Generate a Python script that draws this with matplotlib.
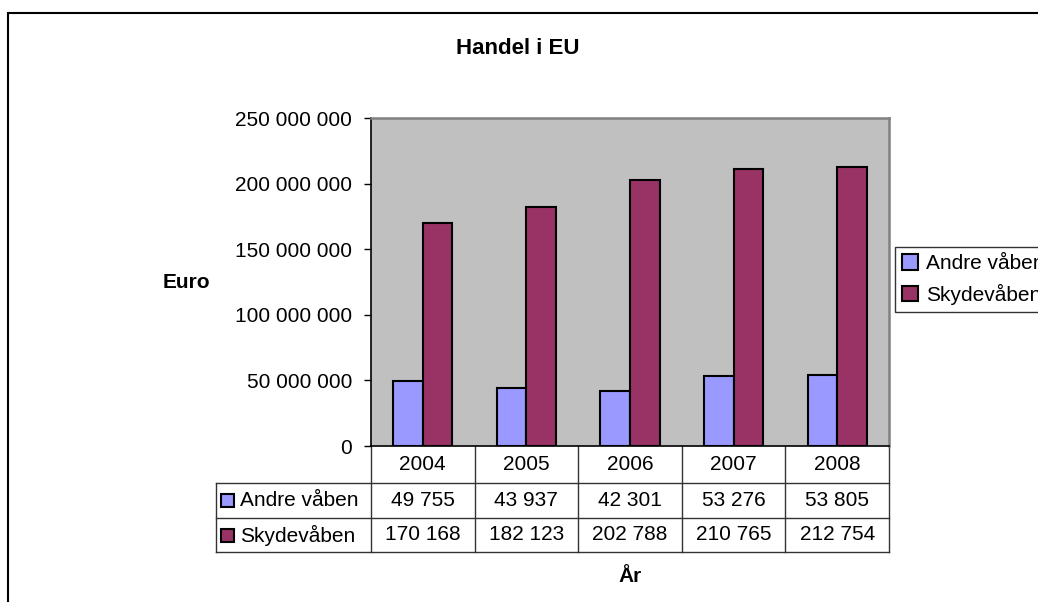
import matplotlib
matplotlib.use("Agg")
import matplotlib.pyplot as plt
from matplotlib.patches import Rectangle
from matplotlib.ticker import FuncFormatter, MultipleLocator
from matplotlib.transforms import blended_transform_factory

plt.rcParams['font.family'] = ['Liberation Sans', 'DejaVu Sans']

years = ["2004", "2005", "2006", "2007", "2008"]
andre = [49755, 43937, 42301, 53276, 53805]        # 1000 euro
skyde = [170168, 182123, 202788, 210765, 212754]   # 1000 euro
series_names = ["Andre våben", "Skydevåben"]
colors = ["#9999FF", "#993366"]

FS = 15

def fmt(v):
    return f"{int(v):,}".replace(",", " ")

fig = plt.figure(figsize=(10.38, 6.02), dpi=100)
ax = fig.add_axes([371/1038, 1-446/602, 518/1038, 328/602])
ax.set_facecolor("#C0C0C0")

x = range(len(years))
w = 1/3.5
ax.bar([i - w/2 for i in x], [v*1000 for v in andre], w, color=colors[0],
       edgecolor="black", linewidth=1.5, label=series_names[0], zorder=3)
ax.bar([i + w/2 for i in x], [v*1000 for v in skyde], w, color=colors[1],
       edgecolor="black", linewidth=1.5, label=series_names[1], zorder=3)

ax.set_xlim(-0.5, len(years)-0.5)
ax.set_ylim(0, 250_000_000)
ax.yaxis.set_major_locator(MultipleLocator(50_000_000))
ax.yaxis.set_major_formatter(FuncFormatter(lambda v, p: fmt(v)))
ax.tick_params(axis="y", length=5, width=1, direction="out", pad=8.5, labelsize=FS)
ax.set_xticks([])

for s in ["top", "right"]:
    ax.spines[s].set_color("#808080")
    ax.spines[s].set_linewidth(1.8)
ax.spines["left"].set_color("black")
ax.spines["bottom"].set_color("black")
ax.spines["left"].set_linewidth(1.2)
ax.spines["bottom"].set_linewidth(1.2)

# data table under the plot
tr = blended_transform_factory(ax.transData, ax.transAxes)
rows_y = [0, -37/328, -72/328, -106/328]
left = -2.0
right = len(years) - 0.5
lc = "#333333"
kw = dict(transform=tr, color=lc, linewidth=1, clip_on=False)
for yy in rows_y[1:]:
    ax.plot([left, right], [yy, yy], **kw)
for i in range(len(years) + 1):
    ax.plot([i - 0.5, i - 0.5], [0, rows_y[-1]], **kw)
ax.plot([left, left], [rows_y[1], rows_y[-1]], **kw)

for i, yr in enumerate(years):
    ax.text(i, (rows_y[0]+rows_y[1])/2, yr, transform=tr, ha="center",
            va="center", fontsize=FS)
for r, vals in enumerate([andre, skyde]):
    yc = (rows_y[r+1] + rows_y[r+2]) / 2
    for i, v in enumerate(vals):
        ax.text(i, yc, fmt(v), transform=tr, ha="center", va="center", fontsize=FS)
    sq = 13/103.6
    ax.add_patch(Rectangle((left + 5/103.6, yc - 6.5/328), sq, 13/328,
                           transform=tr, facecolor=colors[r], edgecolor="black",
                           linewidth=1.5, clip_on=False))
    ax.text(left + 24/103.6, yc, series_names[r], transform=tr, ha="left",
            va="center", fontsize=FS)

# legend sits partly outside the figure, as in the original
leg = ax.legend(loc="upper left", bbox_to_anchor=(895/1038, 1-247/602),
                bbox_transform=fig.transFigure, fontsize=FS, frameon=True,
                fancybox=False, edgecolor="black", handlelength=0.75,
                handleheight=0.75, handletextpad=0.4, borderpad=0.35,
                labelspacing=0.5, borderaxespad=0)
leg.get_frame().set_linewidth(1)

fig.text(518/1038, 1-48/602, "Handel i EU", ha="center", va="center",
         fontsize=FS+1, fontweight="bold")
fig.text(186/1038, 1-283/602, "Euro", ha="center", va="center",
         fontsize=FS, fontweight="bold")
fig.text(630/1038, 1-577/602, "År", ha="center", va="center",
         fontsize=FS, fontweight="bold")

# outer chart border
fig.patches.append(Rectangle((8/1038, -0.1), 1.1, 1.1 - 13/602,
                             transform=fig.transFigure, fill=False,
                             edgecolor="black", linewidth=1.5))

fig.savefig("out.png", dpi=100)
